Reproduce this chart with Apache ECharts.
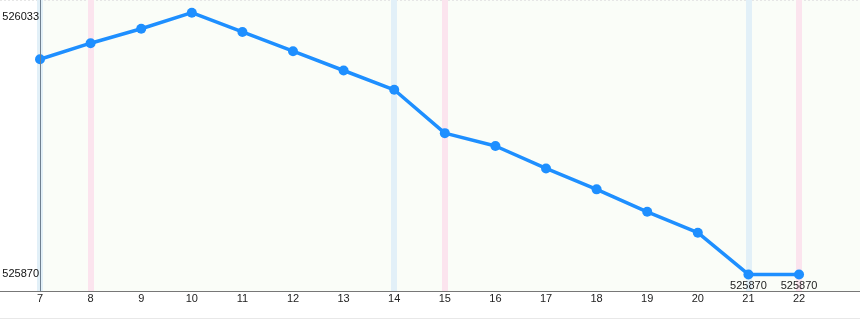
<!DOCTYPE html>
<html>
<head>
<meta charset="utf-8">
<script src="https://cdn.jsdelivr.net/npm/echarts@6/dist/echarts.min.js"></script>
<style>
html,body{margin:0;padding:0;background:#ffffff;}
#chart{width:860px;height:320px;}
</style>
</head>
<body>
<div id="chart"></div>
<script>
const days = [7, 8, 9, 10, 11, 12, 13, 14, 15, 16, 17, 18, 19, 20, 21, 22];
const values = [526004, 526014, 526023, 526033, 526021, 526009, 525997, 525985, 525958, 525950, 525936, 525923, 525909, 525896, 525870, 525870];
const yTickLabels = [525870, 526033];
const blueDays = [7, 14, 21];
const pinkDays = [8, 15, 22];
const labelledDays = [21, 22];

const chart = echarts.init(document.getElementById('chart'), null, {renderer: 'canvas'});
const seriesData = days.map((d, i) => ({
  value: [d, values[i]],
  label: {show: labelledDays.includes(d)}
}));

const option = {
  animation: false,
  textStyle: {fontFamily: 'Liberation Sans, Arial, sans-serif'},
  grid: {left: 40, right: 0, top: 0, bottom: 29, show: true, backgroundColor: '#fafdf8', borderWidth: 0,
         containLabel: false, outerBoundsMode: 'none'},
  xAxis: {
    type: 'value', min: 7, max: 23.205,
    splitLine: {show: false},
    axisLine: {show: true, lineStyle: {color: '#777', width: 1}},
    axisTick: {show: false},
    axisLabel: {customValues: days, color: '#222', fontSize: 11, margin: 2, formatter: v => String(Math.round(v))}
  },
  yAxis: {
    type: 'value', min: 525859.7, max: 526040.9, z: 5,
    splitLine: {show: false},
    axisLine: {show: true, lineStyle: {color: '#6f8090', width: 1}},
    axisTick: {show: false},
    axisLabel: {
      customValues: yTickLabels, color: '#111', fontSize: 11, margin: 1,
      formatter: v => v === yTickLabels[1] ? '{t|' + v + '}' : String(v),
      rich: {t: {fontSize: 11, color: '#111', padding: [8, 0, 0, 0]}}
    }
  },
  series: [{
    type: 'line',
    data: seriesData,
    symbol: 'circle',
    symbolSize: 10,
    lineStyle: {color: '#1e8fff', width: 3.5},
    itemStyle: {color: '#1e8fff'},
    label: {position: 'bottom', distance: 1, color: '#222', fontSize: 11},
    markLine: {
      silent: true, symbol: ['none', 'none'], label: {show: false}, z: 1,
      data: blueDays.map(d => ({xAxis: d, lineStyle: {color: '#e2f0f8', width: 6, type: 'solid'}}))
        .concat(pinkDays.map(d => ({xAxis: d, lineStyle: {color: '#fbe4ee', width: 6, type: 'solid'}})))
    },
    z: 3
  }],
  graphic: [
    {type: 'line', shape: {x1: 0, y1: 291.5, x2: 40, y2: 291.5}, style: {stroke: '#777', lineWidth: 1}},
    {type: 'line', shape: {x1: 0, y1: 0.5, x2: 860, y2: 0.5}, style: {stroke: '#e6e6e6', lineWidth: 1, lineDash: [2, 2]}},
    {type: 'line', shape: {x1: 0, y1: 318.5, x2: 860, y2: 318.5}, style: {stroke: '#e8e8e8', lineWidth: 1}}
  ]
};
chart.setOption(option);
</script>
</body>
</html>
